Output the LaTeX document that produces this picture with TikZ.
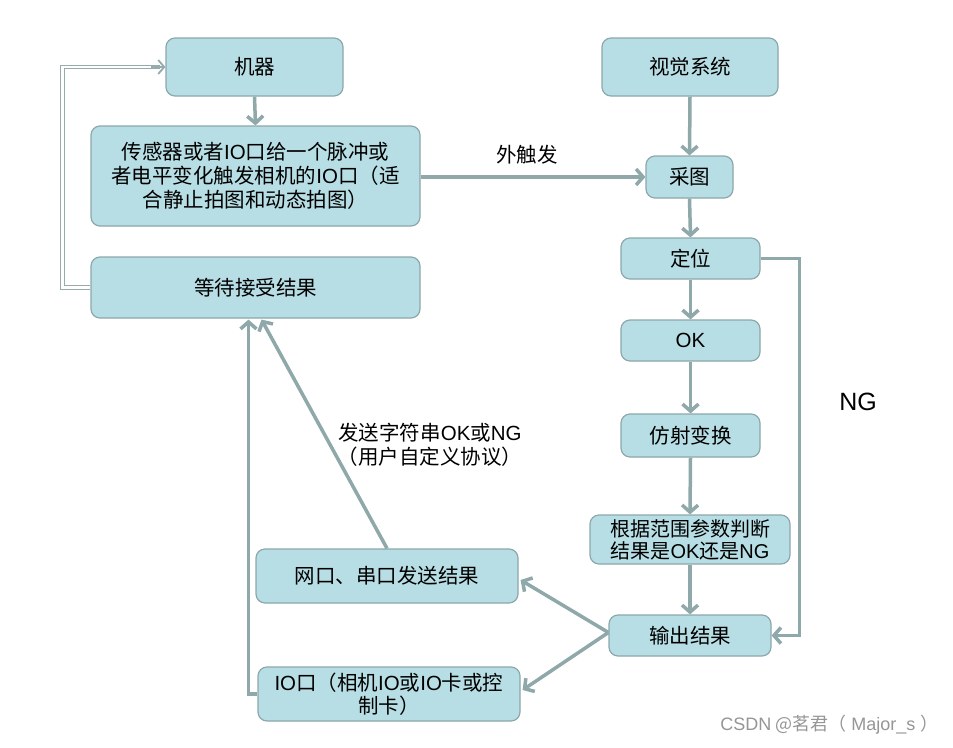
\documentclass[tikz,border=0pt]{standalone}
\usepackage{fontspec}
\setmainfont{Noto Sans CJK SC}
\newfontfamily\lat{Liberation Sans}
\usetikzlibrary{arrows.meta,calc}
\definecolor{boxfill}{RGB}{183,222,228}
\definecolor{boxline}{RGB}{140,168,172}
\definecolor{arr}{RGB}{143,168,170}
\definecolor{dbl}{RGB}{150,172,172}
\definecolor{wm}{RGB}{150,150,150}
\tikzset{
  box/.style={draw=boxline, line width=1.2pt, fill=boxfill, rounded corners=9pt,
    align=center, font=\fontsize{20.5}{24}\selectfont, inner sep=2pt},
  conn/.style={draw=arr, line width=3.5pt, -{Straight Barb[length=7pt,width=16pt,line width=3.5pt]}},
  lbl/.style={font=\fontsize{20.5}{24}\selectfont, align=center},
}
\begin{document}
\begin{tikzpicture}[x=1pt,y=-1pt]
\useasboundingbox (0,0) rectangle (953,747);
\fill[white] (0,0) rectangle (953,747);
% nodes
\node[box, minimum width=177pt, minimum height=58pt] (m) at (254.5,67) {机器};
\node[box, minimum width=329pt, minimum height=100pt] (s) at (255.5,176)
  {传感器或者{\lat IO}口给一个脉冲或\\者电平变化触发相机的{\lat IO}口（适\\合静止拍图和动态拍图）};
\node[box, minimum width=329pt, minimum height=61pt] (w) at (255.5,287.5) {等待接受结果};
\node[box, minimum width=176pt, minimum height=58pt] (v) at (690,67) {视觉系统};
\node[box, minimum width=87pt, minimum height=42pt] (c) at (689.5,177) {采图};
\node[box, minimum width=139pt, minimum height=41pt] (d) at (690.5,258.5) {定位};
\node[box, minimum width=139pt, minimum height=41pt] (ok) at (690.5,340.5) {\lat OK};
\node[box, minimum width=139pt, minimum height=43pt] (f) at (690.5,435.5) {仿射变换};
\node[box, minimum width=200pt, minimum height=49pt, font=\fontsize{20}{22}\selectfont, inner sep=0pt] (g) at (690,539.5)
  {根据范围参数判断\\结果是{\lat OK}还是{\lat NG}};
\node[box, minimum width=162pt, minimum height=41pt] (o) at (690,635.5) {输出结果};
\node[box, minimum width=262pt, minimum height=54pt] (n) at (387,576) {网口、串口发送结果};
\node[box, minimum width=262pt, minimum height=54pt, font=\fontsize{20.5}{23}\selectfont, inner sep=0pt] (io) at (389,694)
  {{\lat IO}口（相机{\lat IO}或{\lat IO}卡或控\\制卡）};
% labels
\node[lbl] (t1) at (527,155) {外触发};
\node[lbl] (t2) at (430,445) {发送字符串{\lat OK}或{\lat NG}\\（用户自定义协议）};
\node[font=\lat\fontsize{25}{30}\selectfont] (t3) at (858,402) {NG};
\node[font=\fontsize{18}{20}\selectfont, text=wm, anchor=east] (t4) at (942,725) {{\lat CSDN} @茗君（{\lat\ Major\_s\ }）};
% connectors
\draw[conn] (m.south) -- (s.north);
\draw[conn] (s.east |- c.west) -- (c.west);
\draw[conn] (v.south) -- (c.north);
\draw[conn] (c.south) -- (d.north);
\draw[conn] (d.south) -- (ok.north);
\draw[conn] (ok.south) -- (f.north);
\draw[conn] (f.south) -- (g.north);
\draw[conn] (g.south) -- (o.north);
\draw[conn] (d.east) -- ++(39,0) |- (o.east);
\draw[conn] ($(o.west)+(0,-3)$) -- ($(n.east)+(2,4)$);
\draw[conn] ($(o.west)+(0,-3)$) -- ($(io.east)+(2,-4)$);
\draw[conn] ($(n.north)+(0,0)$) -- ($(w.south)+(6,1)$);
\draw[conn] (io.west) -| ($(w.south)+(-7,1)$);
% double feedback line
\draw[dbl, double=white, double distance=2.6pt, line width=1pt] (w.west) -- ++(-28,0) |- ($(m.west)+(-5,0)$);
\draw[dbl, line width=1.8pt, -{Straight Barb[length=6pt,width=14pt,line width=1.8pt]}] ($(m.west)+(-14,0)$) -- (m.west);
\end{tikzpicture}
\end{document}
